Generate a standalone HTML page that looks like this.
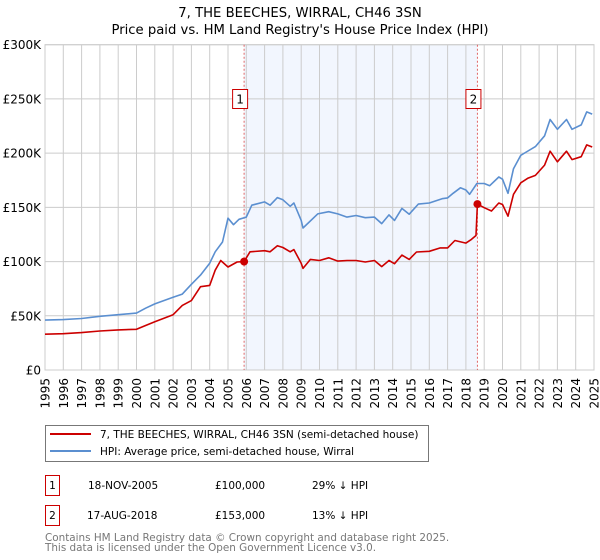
<!DOCTYPE html>
<html><head><meta charset="utf-8"><style>
body{margin:0;background:#fff;}
svg{display:block;font-family:"DejaVu Sans","Liberation Sans",sans-serif;}
</style></head><body>
<svg id="chart" width="600" height="560" xmlns="http://www.w3.org/2000/svg">
<text x="300" y="17" text-anchor="middle" font-size="13.2">7, THE BEECHES, WIRRAL, CH46 3SN</text>
<text x="300" y="34" text-anchor="middle" font-size="13.2">Price paid vs. HM Land Registry's House Price Index (HPI)</text>
<g id="plot"></g>
<g>
<rect x="45.5" y="425.5" width="383" height="36" fill="#fff" stroke="#777"/>
<line x1="50" y1="434" x2="91" y2="434" stroke="#cc0000" stroke-width="2"/>
<text x="100" y="438" font-size="10.5">7, THE BEECHES, WIRRAL, CH46 3SN (semi-detached house)</text>
<line x1="50" y1="451" x2="91" y2="451" stroke="#5b8fd0" stroke-width="2"/>
<text x="100" y="455" font-size="10.5">HPI: Average price, semi-detached house, Wirral</text>
</g>
<g font-size="10.5">
<rect x="45.5" y="475.5" width="14" height="20" fill="#fff" stroke="#cc0000"/>
<text x="52.5" y="489" text-anchor="middle">1</text>
<text x="88" y="489">18-NOV-2005</text>
<text x="215" y="489">£100,000</text>
<text x="312" y="489">29% ↓ HPI</text>
<rect x="45.5" y="505.5" width="14" height="20" fill="#fff" stroke="#cc0000"/>
<text x="52.5" y="519" text-anchor="middle">2</text>
<text x="87" y="519">17-AUG-2018</text>
<text x="215" y="519">£153,000</text>
<text x="312" y="519">13% ↓ HPI</text>
</g>
<text x="45" y="541" font-size="10.4" fill="#777">Contains HM Land Registry data © Crown copyright and database right 2025.</text>
<text x="45" y="551" font-size="10.4" fill="#777">This data is licensed under the Open Government Licence v3.0.</text>
</svg>
<script>
const hpiYears=[1995,1996,1997,1998,1999,2000,2000.5,2001,2002,2002.5,2003,2003.5,2004,2004.3,2004.7,2005,2005.3,2005.6,2006,2006.3,2007,2007.3,2007.7,2008,2008.4,2008.6,2009,2009.1,2009.9,2010.5,2011,2011.5,2012,2012.5,2013,2013.4,2013.8,2014.1,2014.5,2014.9,2015.4,2016,2016.7,2017,2017.3,2017.7,2018,2018.2,2018.6,2019,2019.3,2019.8,2020,2020.3,2020.6,2021,2021.3,2021.8,2022.3,2022.6,2023,2023.5,2023.8,2024.3,2024.6,2024.9];
const hpiValues=[46,46.5,47.5,49.5,51,52.5,57,61,67,70,79,87.5,98.5,109,118,140,134,139,141,152,155,152,159,157,151,154,138,131,144,146,144,141,142.5,140.5,141,135,143,138,149,143.7,153,154,158,158.7,163,168,166,162,172,172,170,178,176,163,185.6,198,201,206,216,231,222,231,222,226,238,236];
const propYears=[1995,1996,1997,1998,1999,2000,2000.5,2001,2002,2002.5,2003,2003.5,2004,2004.3,2004.6,2005,2005.5,2005.88,2006.2,2007,2007.3,2007.7,2008,2008.4,2008.6,2009,2009.1,2009.5,2010,2010.5,2011,2011.5,2012,2012.5,2013,2013.4,2013.8,2014.1,2014.5,2014.9,2015.3,2016,2016.6,2017,2017.4,2018,2018.3,2018.55,2018.63,2019,2019.4,2019.8,2020,2020.3,2020.6,2021,2021.4,2021.8,2022.3,2022.6,2023,2023.5,2023.8,2024.3,2024.6,2024.9];
const propValues=[33,33.5,34.5,36,37,37.5,41,44.5,51,59.6,64,76.8,78,92,101,95,99.6,100,109,110,109,114.6,113,109,111,98.4,93.7,102,101,103.5,100.4,101,101,99.6,101,95.4,101,98,106,102,108.8,109.5,112.6,112.6,119.4,117,120.4,124,153,149.7,146.6,154,152.6,141.8,162,172.6,177,179.5,189,201.8,192,201.8,194,196.7,207.6,205.7];
const saleYears=[2005.88,2018.63];
const saleValues=[100,153];
const saleLabels=["1","2"];
const yTicks=[0,50,100,150,200,250,300];
const yTickLabels=["£0","£50K","£100K","£150K","£200K","£250K","£300K"];
const xTicks=[1995,1996,1997,1998,1999,2000,2001,2002,2003,2004,2005,2006,2007,2008,2009,2010,2011,2012,2013,2014,2015,2016,2017,2018,2019,2020,2021,2022,2023,2024,2025];

const X0=45,X1=594,Y0=370,Y1=44.7;
function xs(y){return X0+(y-1995)/30*(X1-X0);}
function ys(v){return Y0-v/300*(Y0-Y1);}
const NS="http://www.w3.org/2000/svg";
const g=document.getElementById('plot');
function mk(t,a){const e=document.createElementNS(NS,t);for(const k in a)e.setAttribute(k,a[k]);g.appendChild(e);return e;}

const shade=mk('rect',{x:xs(saleYears[0]),y:Y1,width:xs(saleYears[1])-xs(saleYears[0]),height:Y0-Y1,fill:'#f2f6fe'});



xTicks.forEach(t=>{
  const l=mk('line',{x1:xs(t),x2:xs(t),y1:Y1,y2:Y0,stroke:'#cccccc','stroke-width':1});
  
  
  const tx=mk('text',{x:0,y:0,'font-size':12,'text-anchor':'end',transform:`translate(${xs(t)+4.5},${Y0+8}) rotate(-90)`});
  tx.textContent=t;
  
  
});
yTicks.forEach((t,i)=>{
  const l=mk('line',{x1:X0,x2:X1,y1:ys(t),y2:ys(t),stroke:'#cccccc','stroke-width':1});
  
  
  const tx=mk('text',{x:X0-4,y:ys(t)+4.5,'font-size':12,'text-anchor':'end'});
  tx.textContent=yTickLabels[i];
  
  
});
const frame=mk('rect',{x:X0,y:Y1,width:X1-X0,height:Y0-Y1,fill:'none',stroke:'#cccccc'});



saleYears.forEach((s,i)=>{
  const l=mk('line',{x1:xs(s),x2:xs(s),y1:Y1,y2:Y0,stroke:'#e06666','stroke-width':1,'stroke-dasharray':'2,2'});
  
  
});

function path(xa,va,col,name){
  const d=xa.map((x,i)=>(i?'L':'M')+xs(x).toFixed(1)+','+ys(va[i]).toFixed(1)).join('');
  const p=mk('path',{d:d,fill:'none',stroke:col,'stroke-width':1.6,'stroke-linejoin':'round'});
  
  
}
path(hpiYears,hpiValues,'#5b8fd0','hpi-line');
path(propYears,propValues,'#cc0000','property-price-line');

saleYears.forEach((s,i)=>{
  const c=mk('circle',{cx:xs(s),cy:ys(saleValues[i]),r:4,fill:'#cc0000'});
  
  
  const b=mk('rect',{x:xs(s)-11.5,y:89.5,width:15,height:19,fill:'#fff',stroke:'#cc0000'});
  
  
  const t=mk('text',{x:xs(s)-4,y:103.5,'font-size':12,'text-anchor':'middle'});
  t.textContent=saleLabels[i];
  
  
});
</script>
</body></html>
